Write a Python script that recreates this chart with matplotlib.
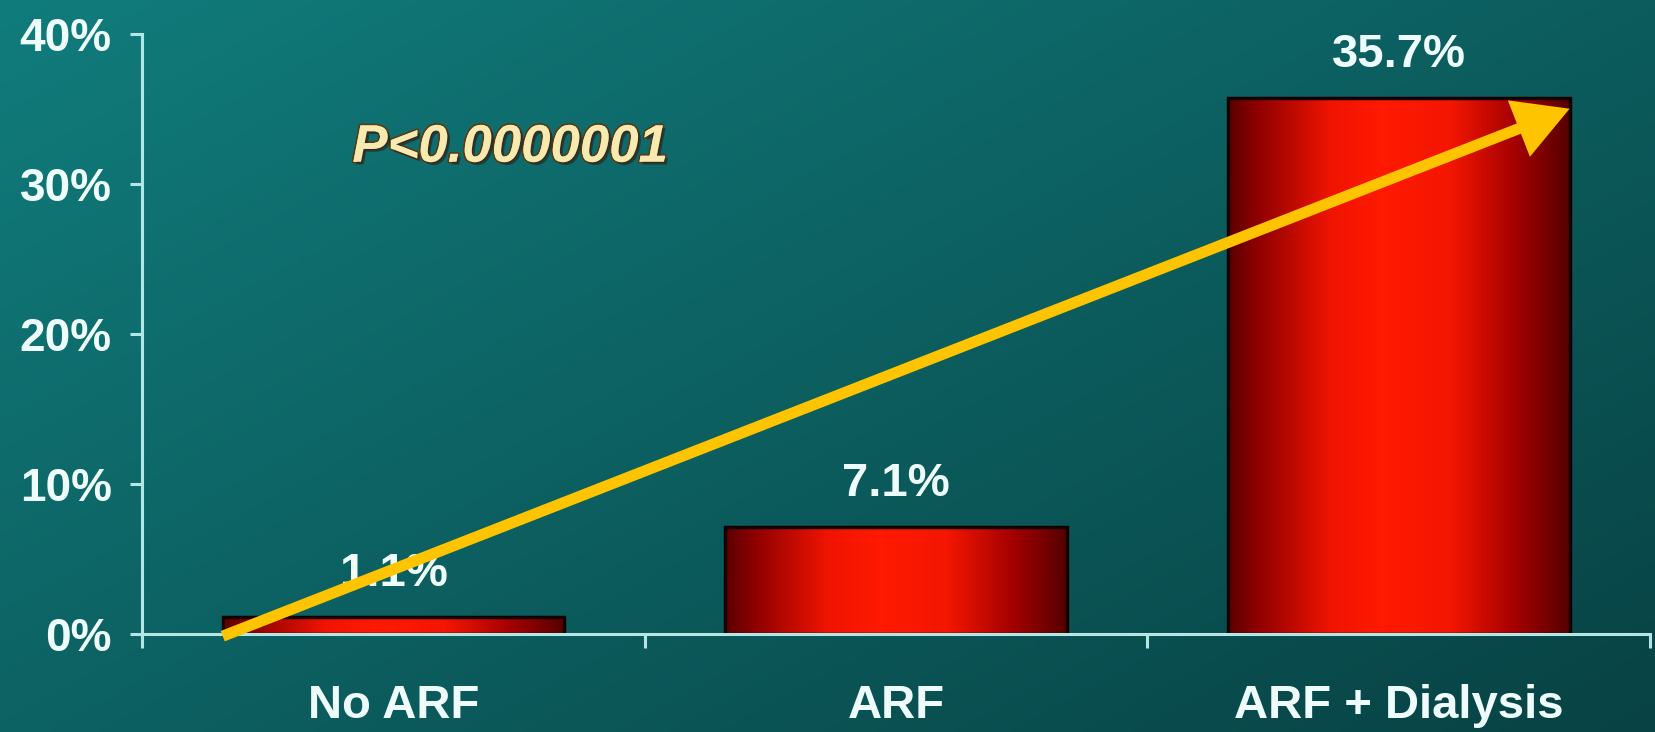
import numpy as np
import matplotlib
matplotlib.use("Agg")
import matplotlib.pyplot as plt
import matplotlib.patheffects as pe
from matplotlib.colors import LinearSegmentedColormap

# ---- data ----
categories = ["No ARF", "ARF", "ARF + Dialysis"]
values = [1.1, 7.1, 35.7]
value_labels = ["1.1%", "7.1%", "35.7%"]
yticks = [0, 10, 20, 30, 40]
ytick_labels = ["0%", "10%", "20%", "30%", "40%"]
p_text = "P<0.0000001"

plt.rcParams['font.family'] = ['Liberation Sans', 'DejaVu Sans']
TXT = '#eefcfc'
AXC = '#b5e6e6'

fig = plt.figure(figsize=(16.55, 7.32), dpi=100)

# background gradient
bg = fig.add_axes([0, 0, 1, 1], zorder=-5)
ny, nx = 200, 400
yy, xx = np.mgrid[0:1:ny*1j, 0:1:nx*1j]
t = np.clip(0.55 * xx + 0.45 * yy, 0, 1)
c0 = np.array([0x11, 0x7c, 0x7c]) / 255.0
c1 = np.array([0x08, 0x42, 0x44]) / 255.0
img = c0[None, None, :] * (1 - t[..., None]) + c1[None, None, :] * t[..., None]
bg.imshow(img, extent=[0, 1, 0, 1], aspect='auto', origin='upper')
bg.set_axis_off()

ax = fig.add_axes([0.086, 0.134, 0.911, 0.82])
ax.set_facecolor('none')

x = np.arange(len(categories))
width = 0.68
bars = ax.bar(x, values, width=width, color='none', edgecolor='#140000',
              linewidth=2.5, zorder=3)

bar_cmap = LinearSegmentedColormap.from_list('barg', [
    (0.0, '#5a0000'), (0.08, '#8c0000'), (0.3, '#f01400'), (0.45, '#ff1a00'),
    (0.65, '#f41600'), (0.85, '#a00000'), (1.0, '#560000')])
grad = np.linspace(0, 1, 256)[None, :]
for b in bars:
    x0 = b.get_x(); w = b.get_width(); h = b.get_height()
    im = ax.imshow(grad, cmap=bar_cmap, extent=[x0, x0 + w, 0, h],
                   aspect='auto', zorder=2, interpolation='bicubic')
    im.set_clip_path(b)

ax.set_xlim(-0.5, len(categories) - 0.5)
ax.set_ylim(0, 40)

# spines
for s in ['top', 'right']:
    ax.spines[s].set_visible(False)
for s in ['left', 'bottom']:
    ax.spines[s].set_color(AXC)
    ax.spines[s].set_linewidth(2.2)
    ax.spines[s].set_zorder(4)

ax.set_yticks(yticks)
ax.set_yticklabels(ytick_labels)
ax.tick_params(axis='y', colors=AXC, length=9, width=2.2, pad=13,
               labelsize=33, labelcolor=TXT)
for lbl in ax.get_yticklabels():
    lbl.set_fontweight('bold')

ax.set_xticks(x)
ax.set_xticklabels(categories)
ax.tick_params(axis='x', which='major', length=0, pad=36, labelsize=34,
               labelcolor=TXT)
for lbl in ax.get_xticklabels():
    lbl.set_fontweight('bold')
ax.set_xticks(np.arange(len(categories) + 1) - 0.5, minor=True)
ax.tick_params(axis='x', which='minor', length=10, width=2.2, color=AXC,
               direction='out')

# value labels
for xi, v, lab in zip(x, values, value_labels):
    ax.annotate(lab, xy=(xi, v), xytext=(0, 31), textcoords='offset points',
                ha='center', va='center', fontsize=34, fontweight='bold',
                color=TXT, zorder=5)

# p-value text
ax.text(0.244, 0.81, p_text, transform=ax.transAxes, ha='center', va='center',
        fontsize=38, fontweight='bold', style='italic', color='#f6eab0',
        path_effects=[pe.withStroke(linewidth=2.5, foreground='#5a3a10'),
                      pe.SimplePatchShadow(offset=(2, -2), shadow_rgbFace='#222222', alpha=0.6),
                      pe.Normal()])

# trend arrow
start = (x[0] - width / 2, 0 - 0.15)
end = (x[-1] + width / 2, values[-1] - 0.7)
ax.annotate('', xy=end, xytext=start,
            arrowprops=dict(arrowstyle='-|>,head_length=0.9,head_width=0.5',
                            color='#ffc400', lw=8, mutation_scale=30,
                            shrinkA=0, shrinkB=0, capstyle='butt',
                            joinstyle='miter'),
            zorder=6, annotation_clip=False)

fig.savefig('out.png', dpi=100)
